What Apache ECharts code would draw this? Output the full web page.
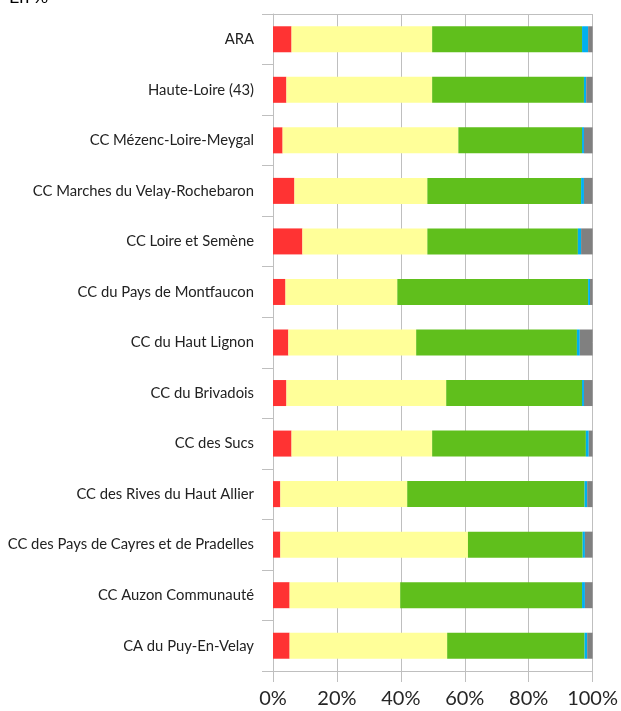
<!DOCTYPE html>
<html>
<head>
<meta charset="utf-8">
<script src="https://cdn.jsdelivr.net/npm/echarts@6/dist/echarts.min.js"></script>
<style>
    html, body { margin: 0; padding: 0; background: #fff; }
    #chart1 { width: 621px; height: 711px; }
</style>
</head>
<body>
<div id="chart1"></div>
<script>
// categories, top to bottom
var categories = [
    'ARA',
    'Haute-Loire (43)',
    'CC Mézenc-Loire-Meygal',
    'CC Marches du Velay-Rochebaron',
    'CC Loire et Semène',
    'CC du Pays de Montfaucon',
    'CC du Haut Lignon',
    'CC du Brivadois',
    'CC des Sucs',
    'CC des Rives du Haut Allier',
    'CC des Pays de Cayres et de Pradelles',
    'CC Auzon Communauté',
    'CA du Puy-En-Velay'
];

// parts in %, one value per category
var redValues    = [5.8, 4.2, 3.0, 6.7, 9.2, 3.9, 4.8, 4.2, 5.8, 2.3, 2.3, 5.2, 5.2];
var yellowValues = [44.0, 45.6, 55.0, 41.6, 39.1, 35.0, 40.0, 50.0, 44.0, 39.7, 58.7, 34.6, 49.3];
var greenValues  = [46.9, 47.5, 38.7, 48.1, 47.1, 59.7, 50.3, 42.5, 48.1, 55.5, 35.9, 56.9, 43.0];
var blueValues   = [1.9, 0.7, 0.6, 0.9, 1.0, 0.6, 0.9, 0.6, 0.9, 0.8, 0.7, 0.9, 0.8];
var grayValues   = [1.4, 2.0, 2.7, 2.7, 3.6, 0.8, 4.0, 2.7, 1.2, 1.7, 2.4, 2.4, 1.7];

var seriesColors = ['#FF3333', '#FFFF99', '#60BF1C', '#00B0F0', '#808080'];
var seriesData = [redValues, yellowValues, greenValues, blueValues, grayValues];

var chart1 = echarts.init(document.getElementById('chart1'));

var series = seriesData.map(function (values, i) {
    return {
        type: 'bar',
        stack: 'total',
        barWidth: 26,
        itemStyle: { color: seriesColors[i] },
        data: values
    };
});

var option = {
    animation: false,
    textStyle: { fontFamily: 'Lato' },
    title: {
        text: 'En %',
        left: 4,
        top: -17,
        textStyle: { fontSize: 18, fontWeight: 'normal', color: '#000', fontFamily: 'Lato' }
    },
    grid: {
        left: 273,
        right: 27,
        top: 14,
        bottom: 40
    },
    xAxis: [{
        type: 'value',
        min: 0,
        max: 100,
        interval: 20,
        position: 'bottom',
        axisLine: { show: true, lineStyle: { color: '#BFBFBF', width: 1 } },
        axisTick: { show: true, length: 11, lineStyle: { color: '#BFBFBF' } },
        axisLabel: { formatter: '{value}%', fontSize: 20, color: '#262626', margin: 18 },
        splitLine: { show: true, lineStyle: { color: '#BFBFBF', width: 1 } }
    }, {
        // top border line
        type: 'value',
        min: 0,
        max: 100,
        position: 'top',
        axisLine: { show: true, lineStyle: { color: '#BFBFBF', width: 1 } },
        axisTick: { show: false },
        axisLabel: { show: false },
        splitLine: { show: false }
    }],
    yAxis: {
        type: 'category',
        inverse: true,
        data: categories,
        axisLine: { show: true, lineStyle: { color: '#BFBFBF', width: 1 } },
        axisTick: { show: true, length: 11, lineStyle: { color: '#BFBFBF' } },
        axisLabel: { fontSize: 14.8, color: '#222', margin: 19 }
    },
    series: series
};

chart1.setOption(option);

window.onresize = function () {
    chart1.resize();
};
</script>
</body>
</html>
